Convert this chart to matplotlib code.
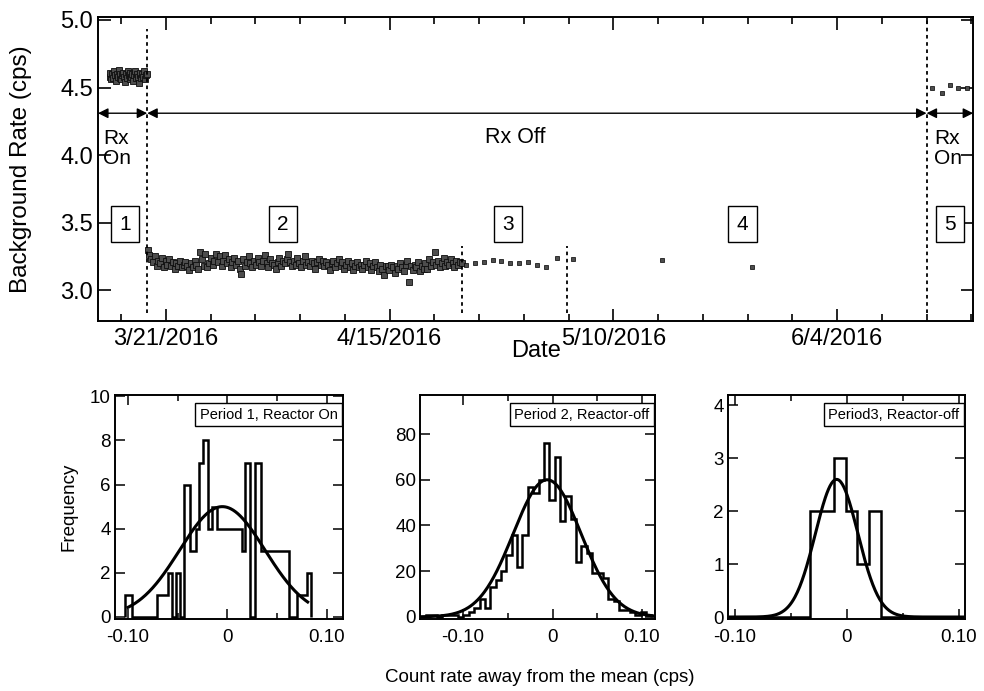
import numpy as np
import matplotlib
matplotlib.use('Agg')
import matplotlib.pyplot as plt
import matplotlib.dates as mdates
from matplotlib.ticker import FuncFormatter, MultipleLocator
from datetime import datetime

plt.rcParams['font.family'] = ['Liberation Sans', 'DejaVu Sans']

# ---- top panel data ----
p1_start, p1_end = datetime(2016, 3, 14, 17), datetime(2016, 3, 18, 21)
p1_rate = [4.58, 4.61, 4.56, 4.60, 4.57, 4.62, 4.59, 4.55, 4.60, 4.58, 4.63, 4.57, 4.60, 4.56,
           4.59, 4.61, 4.58, 4.54, 4.60, 4.57, 4.62, 4.59, 4.56, 4.61, 4.58, 4.60, 4.55, 4.59,
           4.62, 4.57, 4.60, 4.58, 4.53, 4.59, 4.61, 4.57, 4.60, 4.58, 4.62, 4.56, 4.59, 4.60]

p2_start, p2_end = datetime(2016, 3, 18, 23), datetime(2016, 4, 23, 1)
p2_rate = [3.30, 3.26, 3.23, 3.21, 3.25, 3.18, 3.22,
           3.20, 3.24, 3.17, 3.22, 3.19, 3.23, 3.18,
           3.21, 3.16, 3.20, 3.18, 3.22, 3.17, 3.19,
           3.21, 3.18, 3.15, 3.20, 3.17, 3.22, 3.19,
           3.16, 3.28, 3.23, 3.18, 3.27, 3.17, 3.20,
           3.24, 3.19, 3.22, 3.27, 3.21, 3.25, 3.18,
           3.22, 3.26, 3.20, 3.23, 3.17, 3.21, 3.24,
           3.19, 3.22, 3.16, 3.12, 3.23, 3.18, 3.21,
           3.25, 3.20, 3.17, 3.22, 3.19, 3.24, 3.21,
           3.18, 3.22, 3.26, 3.20, 3.17, 3.23, 3.20,
           3.19, 3.16, 3.21, 3.24, 3.18, 3.22, 3.20,
           3.23, 3.27, 3.21, 3.18, 3.22, 3.19, 3.24,
           3.20, 3.17, 3.22, 3.25, 3.19, 3.21, 3.18,
           3.22, 3.20, 3.16, 3.21, 3.23, 3.19, 3.22,
           3.18, 3.21, 3.19, 3.15, 3.20, 3.22, 3.17,
           3.20, 3.23, 3.18, 3.21, 3.16, 3.19, 3.22,
           3.17, 3.20, 3.15, 3.18, 3.21, 3.17, 3.19,
           3.16, 3.19, 3.22, 3.17, 3.20, 3.15, 3.18,
           3.21, 3.17, 3.14, 3.19, 3.16, 3.11, 3.18,
           3.18, 3.15, 3.19, 3.17, 3.13, 3.18, 3.16,
           3.20, 3.17, 3.14, 3.19, 3.22, 3.06, 3.18,
           3.15, 3.19, 3.17, 3.21, 3.14, 3.18, 3.16,
           3.20, 3.16, 3.23, 3.18, 3.21, 3.28, 3.19,
           3.22, 3.17, 3.20, 3.24, 3.18, 3.21, 3.19,
           3.23, 3.20, 3.17, 3.22, 3.19, 3.21, 3.20]

p3_dates = [datetime(2016, 4, 23, 12), datetime(2016, 4, 24, 12), datetime(2016, 4, 25, 12),
            datetime(2016, 4, 26, 12), datetime(2016, 4, 27, 12), datetime(2016, 4, 28, 12),
            datetime(2016, 4, 29, 12), datetime(2016, 4, 30, 12), datetime(2016, 5, 1, 12),
            datetime(2016, 5, 2, 12), datetime(2016, 5, 3, 17)]
p3_rate = [3.185, 3.198, 3.21, 3.222, 3.217, 3.202, 3.202, 3.21, 3.185, 3.173, 3.235]

p4_dates = [datetime(2016, 5, 5, 12), datetime(2016, 5, 15, 10), datetime(2016, 5, 25, 12)]
p4_rate = [3.228, 3.222, 3.173]

p5_dates = [datetime(2016, 6, 14, 14), datetime(2016, 6, 15, 17), datetime(2016, 6, 16, 14),
            datetime(2016, 6, 17, 12), datetime(2016, 6, 18, 12)]
p5_rate = [4.495, 4.46, 4.52, 4.495, 4.495]

boundaries = [datetime(2016, 3, 18, 22), datetime(2016, 4, 23, 2),
              datetime(2016, 5, 4, 19), datetime(2016, 6, 14, 0)]
boundary_top = [4.93, 3.33, 3.33, 5.0]

period_labels = ['1', '2', '3', '4', '5']
period_label_dates = [datetime(2016, 3, 16, 10), datetime(2016, 4, 3, 2), datetime(2016, 4, 28, 5),
                      datetime(2016, 5, 24, 10), datetime(2016, 6, 16, 14)]

# ---- histogram data ----
h1_edges = [-0.103, -0.096, -0.071, -0.060, -0.056, -0.052, -0.048, -0.044, -0.038, -0.032,
            -0.029, -0.024, -0.019, -0.015, -0.010, 0.015, 0.018, 0.023, 0.028, 0.034,
            0.062, 0.070, 0.080, 0.084]
h1_counts = [1, 0, 1, 2, 0, 2, 0, 6, 3, 4, 7, 8, 4, 5, 4, 3, 7, 0, 7, 3, 0, 1, 2]
fit1 = dict(amp=5.0, mu=-0.005, sigma=0.043, lo=-0.100, hi=0.081)

h2_start, h2_width = -0.1416, 0.006
h2_counts = [1, 1, 0, 1, 1, 1, 0, 1, 2, 4, 8, 4, 13, 16, 20, 27, 36, 22, 36, 57, 54,
             60, 76, 51, 70, 42, 53, 43, 24, 31, 28, 19, 19, 17, 8, 7, 3, 3, 2, 1, 2, 1]
fit2 = dict(amp=60.0, mu=-0.006, sigma=0.038, lo=-0.147, hi=0.112)

h3_edges = [-0.104, -0.0325, -0.022, -0.0115, -0.001, 0.0095, 0.020, 0.0305, 0.104]
h3_counts = [0, 2, 2, 3, 2, 1, 2, 0]
fit3 = dict(amp=2.6, mu=-0.009, sigma=0.019, lo=-0.104, hi=0.104)

fig = plt.figure(figsize=(9.84, 6.91), dpi=100)

# ---------------- top panel ----------------
ax = fig.add_axes([0.0996, 0.535, 0.8894, 0.440])
t1 = mdates.num2date(np.linspace(mdates.date2num(p1_start), mdates.date2num(p1_end), len(p1_rate)))
t2 = mdates.num2date(np.linspace(mdates.date2num(p2_start), mdates.date2num(p2_end), len(p2_rate)))
dense = dict(ls='none', marker='s', ms=4.5, mfc='0.3', mec='0.05', mew=0.6)
sparse = dict(ls='none', marker='s', ms=3.0, mfc='0.3', mec='k', mew=0.5)
ax.plot(t1, p1_rate, **dense)
ax.plot(t2, p2_rate, **dense)
ax.plot(p3_dates, p3_rate, **sparse)
ax.plot(p4_dates, p4_rate, **sparse)
ax.plot(p5_dates, p5_rate, **sparse)

for d, top in zip(boundaries, boundary_top):
    ax.plot([d, d], [2.83, top], color='k', lw=1.3, ls=(0, (2, 2)))

xmin, xmax = datetime(2016, 3, 13, 10), datetime(2016, 6, 19, 5)
ax.set_xlim(xmin, xmax)
ax.set_ylim(2.77, 5.02)

arrow_y = 4.31
ap = dict(arrowstyle='<|-|>', color='k', lw=1.0, mutation_scale=15, shrinkA=0, shrinkB=0)
ax.annotate('', xy=(xmin, arrow_y), xytext=(boundaries[0], arrow_y), arrowprops=ap)
ax.annotate('', xy=(boundaries[0], arrow_y), xytext=(boundaries[3], arrow_y), arrowprops=ap)
ax.annotate('', xy=(boundaries[3], arrow_y), xytext=(xmax, arrow_y), arrowprops=ap)

ax.text(datetime(2016, 3, 14, 0), 4.05, 'Rx\nOn', fontsize=15, ha='left', va='center', linespacing=1.05)
ax.text(datetime(2016, 6, 14, 20), 4.05, 'Rx\nOn', fontsize=15, ha='left', va='center', linespacing=1.05)
ax.text(datetime(2016, 4, 29), 4.13, 'Rx Off', fontsize=15.5, ha='center', va='center')

for lab, d in zip(period_labels, period_label_dates):
    ax.text(d, 3.49, lab, fontsize=15, ha='center', va='center',
            bbox=dict(boxstyle='square,pad=0.4', fc='white', ec='k', lw=1.0))

major_dates = [datetime(2016, 3, 21), datetime(2016, 4, 15), datetime(2016, 5, 10), datetime(2016, 6, 4)]
ax.set_xticks(major_dates)
minor = mdates.date2num(datetime(2016, 3, 16)) + 5 * np.arange(0, 20)
ax.set_xticks(minor, minor=True)
ax.xaxis.set_major_formatter(FuncFormatter(
    lambda v, p: '%d/%d/%d' % (mdates.num2date(v).month, mdates.num2date(v).day, mdates.num2date(v).year)))
ax.set_yticks([3.0, 3.5, 4.0, 4.5, 5.0])
ax.tick_params(which='both', direction='in', top=True, right=True, width=1.2, labelsize=17)
ax.tick_params(which='major', length=9)
ax.tick_params(which='minor', length=5)
ax.tick_params(axis='x', pad=5)
ax.set_xlabel('Date', fontsize=17)
ax.xaxis.set_label_coords(0.5, -0.06)
ax.set_ylabel('Background Rate (cps)', fontsize=17.5)
ax.yaxis.set_label_coords(-0.075, 0.5)
for s in ax.spines.values():
    s.set_linewidth(1.4)

# ---------------- histograms ----------------
def hist_panel(rect, edges, counts, fit, ylim, yticks, xlim, label):
    a = fig.add_axes(rect)
    a.stairs(counts, edges, baseline=0, color='k', lw=1.8)
    xs = np.linspace(fit['lo'], fit['hi'], 300)
    a.plot(xs, fit['amp'] * np.exp(-(xs - fit['mu']) ** 2 / (2 * fit['sigma'] ** 2)), color='k', lw=2.2)
    a.set_xlim(*xlim)
    a.set_ylim(*ylim)
    a.set_yticks(yticks)
    a.set_xticks([-0.10, 0, 0.10])
    a.set_xticklabels(['-0.10', '0', '0.10'])
    a.xaxis.set_minor_locator(MultipleLocator(0.05))
    a.tick_params(which='both', direction='in', top=True, right=True, width=1.1, labelsize=13.5)
    a.tick_params(which='major', length=7)
    a.tick_params(which='minor', length=4)
    a.tick_params(axis='x', pad=7)
    a.tick_params(axis='y', pad=3)
    for s in a.spines.values():
        s.set_linewidth(1.4)
    a.text(0.975, 0.945, label, transform=a.transAxes, fontsize=10.5, ha='right', va='top',
           bbox=dict(boxstyle='square,pad=0.3', fc='white', ec='k', lw=1.0))
    return a

h2_edges = h2_start + h2_width * np.arange(len(h2_counts) + 1)

a1 = hist_panel([0.117, 0.104, 0.232, 0.324], h1_edges, h1_counts, fit1,
                (-0.1, 10.05), [0, 2, 4, 6, 8, 10], (-0.113, 0.117), 'Period 1, Reactor On')
a2 = hist_panel([0.427, 0.104, 0.239, 0.324], h2_edges, h2_counts, fit2,
                (-1.0, 97), [0, 20, 40, 60, 80], (-0.148, 0.115), 'Period 2, Reactor-off')
a3 = hist_panel([0.740, 0.104, 0.241, 0.324], h3_edges, h3_counts, fit3,
                (-0.04, 4.19), [0, 1, 2, 3, 4], (-0.106, 0.106), 'Period3, Reactor-off')

a1.set_ylabel('Frequency', fontsize=13.5)
a1.yaxis.set_label_coords(-0.167, 0.5)
fig.text(0.549, 0.02, 'Count rate away from the mean (cps)', fontsize=13.5, ha='center', va='center')

fig.savefig('out.png', dpi=100)
